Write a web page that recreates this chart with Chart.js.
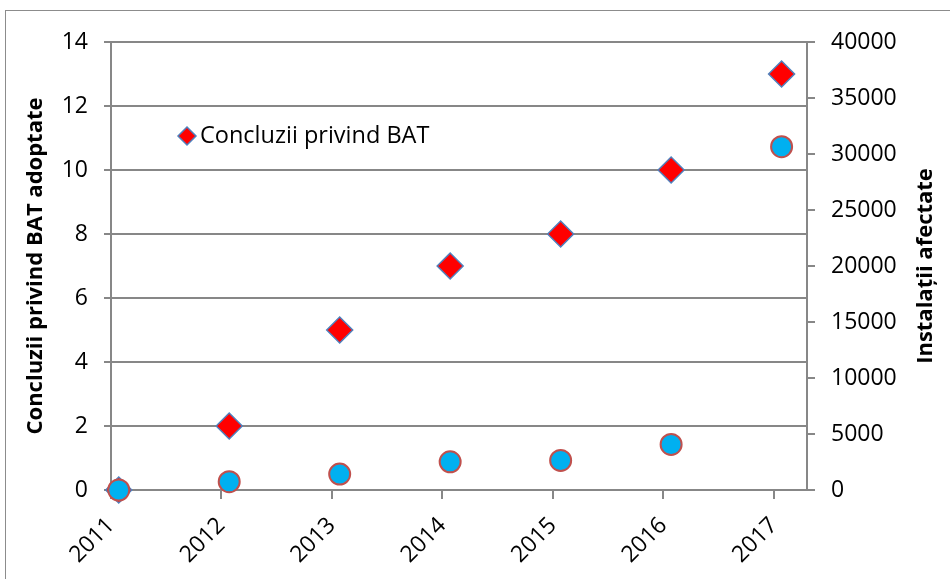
<!DOCTYPE html>
<html>
<head>
<meta charset="utf-8">
<title>Concluzii privind BAT</title>
<script src="https://cdn.jsdelivr.net/npm/chart.js@4.4.1/dist/chart.umd.min.js"></script>
<style>
    html, body { margin: 0; padding: 0; background: #fff; overflow: hidden; }
    #wrap { position: relative; width: 950px; height: 579px; }
    #frame { position: absolute; left: 5px; top: 10px; width: 1000px; height: 1000px; border: 1px solid #8c8c8c; }
    #chart { position: absolute; left: 0; top: 0; }
</style>
</head>
<body>
<div id="wrap">
    <div id="frame"></div>
    <canvas id="chart" width="950" height="579"></canvas>
</div>
<script>
// 数据
const tickYears = [2011, 2012, 2013, 2014, 2015, 2016, 2017];
const pointYears = [2011.07, 2012.07, 2013.07, 2014.07, 2015.07, 2016.07, 2017.07];
const batConclusions = [0, 2, 5, 7, 8, 10, 13];
const installations = [0, 740, 1420, 2520, 2640, 4070, 30650];
const leftTicks = [0, 2, 4, 6, 8, 10, 12, 14];
const rightTicks = [0, 5000, 10000, 15000, 20000, 25000, 30000, 35000, 40000];

const gridColor = '#878787';
const tickFont = { family: "'Open Sans', sans-serif", size: 23 };
const titleFont = { family: "'Open Sans', sans-serif", size: 22, weight: 'bold' };

// 图例 + 右轴标题（从下往上读）
const extrasPlugin = {
    id: 'extras',
    afterDraw(chart) {
        const ctx = chart.ctx;
        const area = chart.chartArea;
        const ds = chart.data.datasets[1];

        // 图例
        const mx = area.left + 76, my = area.top + 94;
        ctx.save();
        ctx.fillStyle = ds.backgroundColor;
        ctx.strokeStyle = ds.borderColor;
        ctx.lineWidth = 1.5;
        Chart.helpers.drawPoint(ctx, { pointStyle: 'rectRot', radius: 9, rotation: 0, borderWidth: 1.5 }, mx, my);
        ctx.fillStyle = '#000';
        ctx.font = "23.5px 'Open Sans', sans-serif";
        ctx.textBaseline = 'middle';
        ctx.textAlign = 'left';
        ctx.fillText(ds.label, mx + 13, my);
        ctx.restore();

        // 右轴标题
        ctx.save();
        ctx.translate(926, (area.top + area.bottom) / 2);
        ctx.rotate(-Math.PI / 2);
        ctx.font = "bold 22px 'Open Sans', sans-serif";
        ctx.fillStyle = '#000';
        ctx.textAlign = 'center';
        ctx.textBaseline = 'middle';
        ctx.fillText('Instalații afectate', 0, 0);
        ctx.restore();
    }
};

new Chart(document.getElementById('chart'), {
    type: 'scatter',
    data: {
        datasets: [{
            label: 'Instalații afectate',
            data: pointYears.map((x, i) => ({ x: x, y: installations[i] })),
            yAxisID: 'y2',
            pointStyle: 'circle',
            pointRadius: 10.5,
            backgroundColor: '#00b0f0',
            borderColor: '#c0504d',
            borderWidth: 2,
            clip: false
        }, {
            label: 'Concluzii privind BAT',
            data: pointYears.map((x, i) => ({ x: x, y: batConclusions[i] })),
            yAxisID: 'y',
            pointStyle: 'rectRot',
            pointRadius: 13,
            backgroundColor: '#ff0000',
            borderColor: '#4f81bd',
            borderWidth: 1.5,
            clip: false
        }]
    },
    options: {
        responsive: false,
        devicePixelRatio: 1,
        animation: false,
        layout: { padding: { top: 42, left: 0, right: 0, bottom: 0 } },
        plugins: {
            legend: { display: false },
            tooltip: { enabled: false }
        },
        scales: {
            x: {
                type: 'linear',
                min: 2011,
                max: 2017.3,
                afterBuildTicks: s => { s.ticks = tickYears.map(v => ({ value: v })); },
                afterFit: s => { s.height = 89; },
                ticks: {
                    callback: v => String(v),
                    maxRotation: 45,
                    minRotation: 45,
                    padding: 13,
                    font: tickFont,
                    color: '#000'
                },
                grid: { drawOnChartArea: false, drawTicks: true, tickLength: 9, color: gridColor, lineWidth: 2 },
                border: { display: true, color: gridColor, width: 2 }
            },
            y: {
                position: 'left',
                min: 0,
                max: 14,
                afterBuildTicks: s => { s.ticks = leftTicks.map(v => ({ value: v })); },
                afterFit: s => { s.width = 111; },
                ticks: { padding: 16, font: tickFont, color: '#000' },
                grid: { color: gridColor, lineWidth: 2, tickLength: 7 },
                border: { color: gridColor, width: 2 },
                title: {
                    display: true,
                    text: 'Concluzii privind BAT adoptate',
                    font: titleFont,
                    color: '#000',
                    padding: { top: 23, bottom: 0 }
                }
            },
            y2: {
                position: 'right',
                min: 0,
                max: 40000,
                afterBuildTicks: s => { s.ticks = rightTicks.map(v => ({ value: v })); },
                afterFit: s => { s.width = 143; },
                ticks: { callback: v => String(v), padding: 16, font: tickFont, color: '#000' },
                grid: { drawOnChartArea: false, tickLength: 8, color: gridColor, lineWidth: 2 },
                border: { color: gridColor, width: 2 }
            }
        }
    },
    plugins: [extrasPlugin]
});
</script>
</body>
</html>
